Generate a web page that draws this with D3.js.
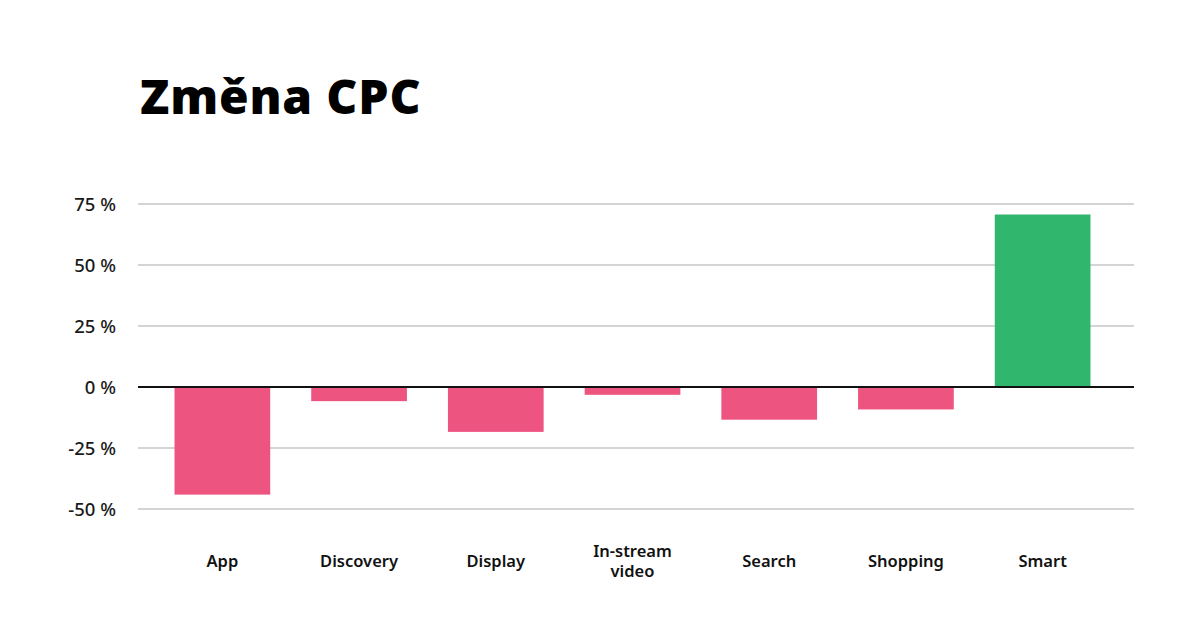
<!DOCTYPE html>
<html>
<head>
<meta charset="utf-8">
<script src="https://cdn.jsdelivr.net/npm/d3@7"></script>
<style>
  body { margin: 0; background: #fff; }
  svg { display: block; font-family: "Noto Sans", "Open Sans", sans-serif; }
</style>
</head>
<body>
<svg id="chart" width="1200" height="628"></svg>
<script>
// data
const categories = ['App', 'Discovery', 'Display', 'In-stream video', 'Search', 'Shopping', 'Smart'];
const cpcChange = [-44.1, -5.8, -18.4, -3.2, -13.4, -9.2, 70.7];
const yTicks = [-50, -25, 0, 25, 50, 75];

const width = 1200;
const height = 628;
const grid = { left: 138, right: 1134 };

const svg = d3.select('#chart');

// title
svg.append('text')
  .attr('x', 140)
  .attr('y', 114)
  .attr('font-size', 48)
  .attr('font-weight', 900)
  .attr('letter-spacing', 0.8)
  .attr('fill', '#000')
  .text('Změna CPC');

const y = d3.scaleLinear()
  .domain([-50, 75])
  .range([509, 204]);

const x = d3.scaleBand()
  .domain(categories)
  .range([154, 1111])
  .paddingInner(0.3)
  .paddingOuter(0.15);

// gridlines
svg.append('g')
  .selectAll('line')
  .data(yTicks.filter(d => d !== 0))
  .enter().append('line')
    .attr('x1', grid.left)
    .attr('x2', grid.right)
    .attr('y1', d => y(d))
    .attr('y2', d => y(d))
    .attr('stroke', '#d4d4d4')
    .attr('stroke-width', 2);

// y labels
svg.append('g')
  .selectAll('text')
  .data(yTicks)
  .enter().append('text')
    .attr('x', 116)
    .attr('y', d => y(d))
    .attr('dy', '0.36em')
    .attr('text-anchor', 'end')
    .attr('font-size', 18.5)
    .attr('font-weight', 500)
    .attr('fill', '#1a1a1a')
    .text(d => (d < 0 ? '-' + Math.abs(d) : d) + ' %');

// bars
svg.append('g')
  .selectAll('rect')
  .data(cpcChange)
  .enter().append('rect')
    .attr('x', (d, i) => x(categories[i]))
    .attr('width', x.bandwidth())
    .attr('y', d => y(Math.max(0, d)))
    .attr('height', d => Math.abs(y(d) - y(0)))
    .attr('fill', d => d < 0 ? '#ee5480' : '#31b66e');

// zero line
svg.append('line')
  .attr('x1', grid.left)
  .attr('x2', grid.right)
  .attr('y1', y(0))
  .attr('y2', y(0))
  .attr('stroke', '#111')
  .attr('stroke-width', 2);

// x labels
const xLabels = svg.append('g')
  .selectAll('text')
  .data(categories)
  .enter().append('text')
    .attr('x', d => x(d) + x.bandwidth() / 2)
    .attr('text-anchor', 'middle')
    .attr('font-size', 16.5)
    .attr('font-weight', 600)
    .attr('fill', '#111');

xLabels.each(function(d) {
  let words = d === 'In-stream video' ? ['In-stream', 'video'] : [d];
  let t = d3.select(this);
  let startY = words.length > 1 ? 557 : 567;
  words.forEach((w, i) => {
    t.append('tspan')
      .attr('x', x(d) + x.bandwidth() / 2)
      .attr('y', startY + i * 20)
      .text(w);
  });
});
</script>
</body>
</html>
